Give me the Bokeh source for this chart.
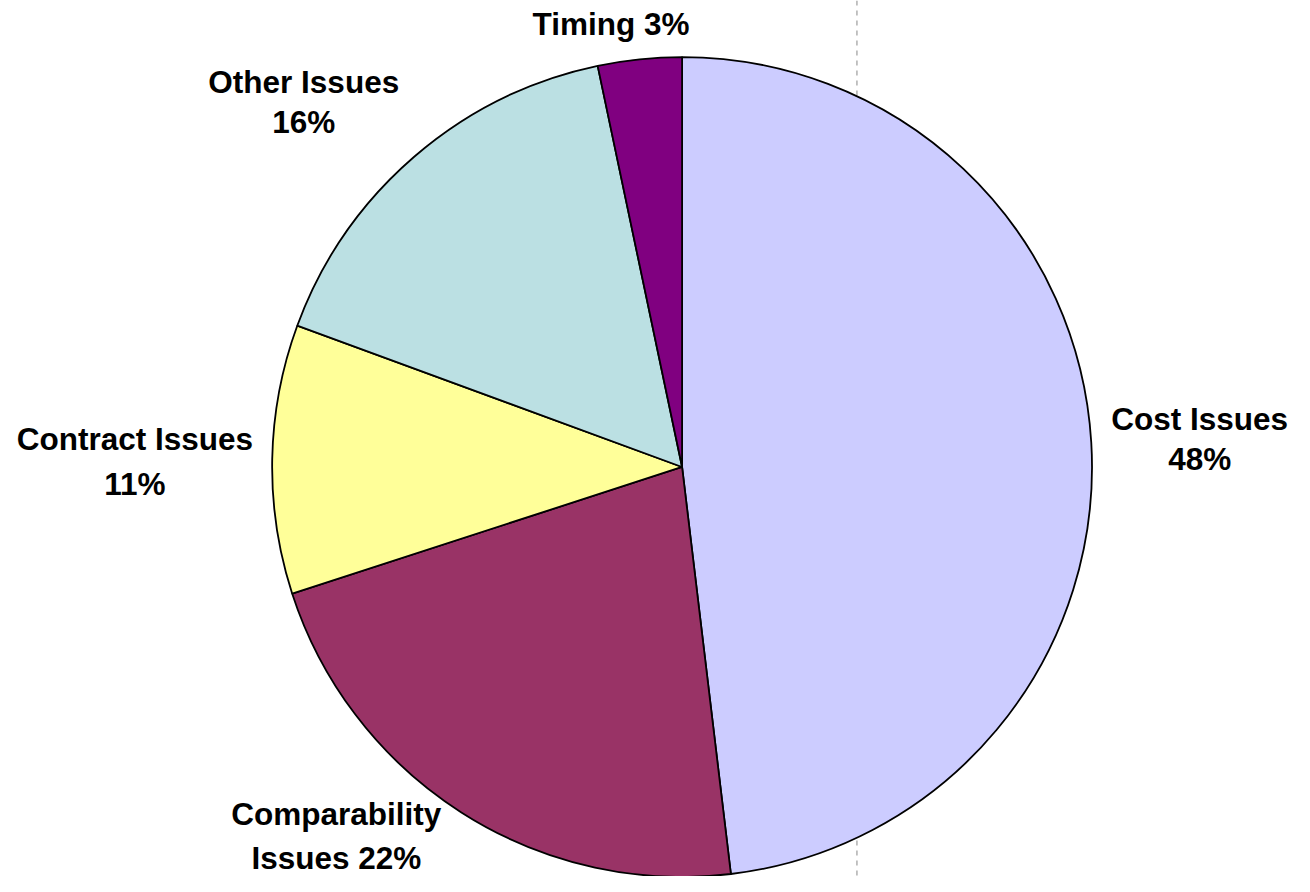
import math
from bokeh.plotting import figure
from bokeh.models import Range1d, ColumnDataSource, Span
from bokeh.core.properties import value
from bokeh.embed import file_html
from bokeh.resources import INLINE

# ---- data ----
categories = ["Cost Issues", "Comparability Issues", "Contract Issues", "Other Issues", "Timing"]
shares = [48.1, 21.9, 10.6, 16.1, 3.3]
percent_labels = [48, 22, 11, 16, 3]
colors = ["#CCCCFF", "#993366", "#FFFF99", "#BBE0E3", "#800080"]
label_lines = [
    ["Cost Issues", "48%"],
    ["Comparability", "Issues 22%"],
    ["Contract Issues", "11%"],
    ["Other Issues", "16%"],
    ["Timing 3%"],
]

# ---- layout (reference pixel space 1310 x 892) ----
REF_W, REF_H = 1310, 892
W, H = REF_W - 16, REF_H - 16
SCALE = (W / REF_W + H / REF_H) / 2
CX, CY = 690, REF_H - 475
R = 415
FONT = "Liberation Sans"
FS = "%.1fpx" % (32 * SCALE)
BASE_SHIFT = 9  # renderer places baseline slightly low; compensate
# label line positions in reference pixels (x centre, y baseline)
label_pos = [
    [(1214, 435), (1214, 476)],
    [(340, 837), (340, 882)],
    [(136, 456), (136, 501)],
    [(307, 92), (307, 133)],
    [(618, 33)],
]

p = figure(width=W, height=H, x_range=Range1d(0, REF_W), y_range=Range1d(0, REF_H),
           output_backend="svg", toolbar_location=None, min_border=0)
p.axis.visible = False
p.grid.visible = False
p.outline_line_color = None
p.background_fill_color = "white"
p.border_fill_color = "white"

span = Span(location=867, dimension="height", line_color="#bdbdbd", line_width=1.8,
            line_dash="5 5", level="underlay")
p.add_layout(span)

total = sum(shares)
starts, ends = [], []
cum = 0.0
for s in shares:
    starts.append(math.pi / 2 - 2 * math.pi * cum / total)
    cum += s
    ends.append(math.pi / 2 - 2 * math.pi * cum / total)

src = ColumnDataSource(dict(cat=categories, start=starts, end=ends, color=colors))
p.wedge(x=CX, y=CY, radius=R, start_angle="start", end_angle="end", direction="clock",
        fill_color="color", line_color="black", line_width=1.8, source=src)

tx, ty, tt = [], [], []
for lines, poss in zip(label_lines, label_pos):
    for t, (px, py) in zip(lines, poss):
        tx.append(px)
        ty.append(REF_H - (py - BASE_SHIFT))
        tt.append(t)
tsrc = ColumnDataSource(dict(x=tx, y=ty, t=tt))
p.text(x="x", y="y", text="t", source=tsrc, text_font=value(FONT), text_font_size=FS,
       text_font_style="bold", text_align="center", text_baseline="alphabetic", text_color="black")

open("out.html", "w").write(file_html(p, INLINE))
